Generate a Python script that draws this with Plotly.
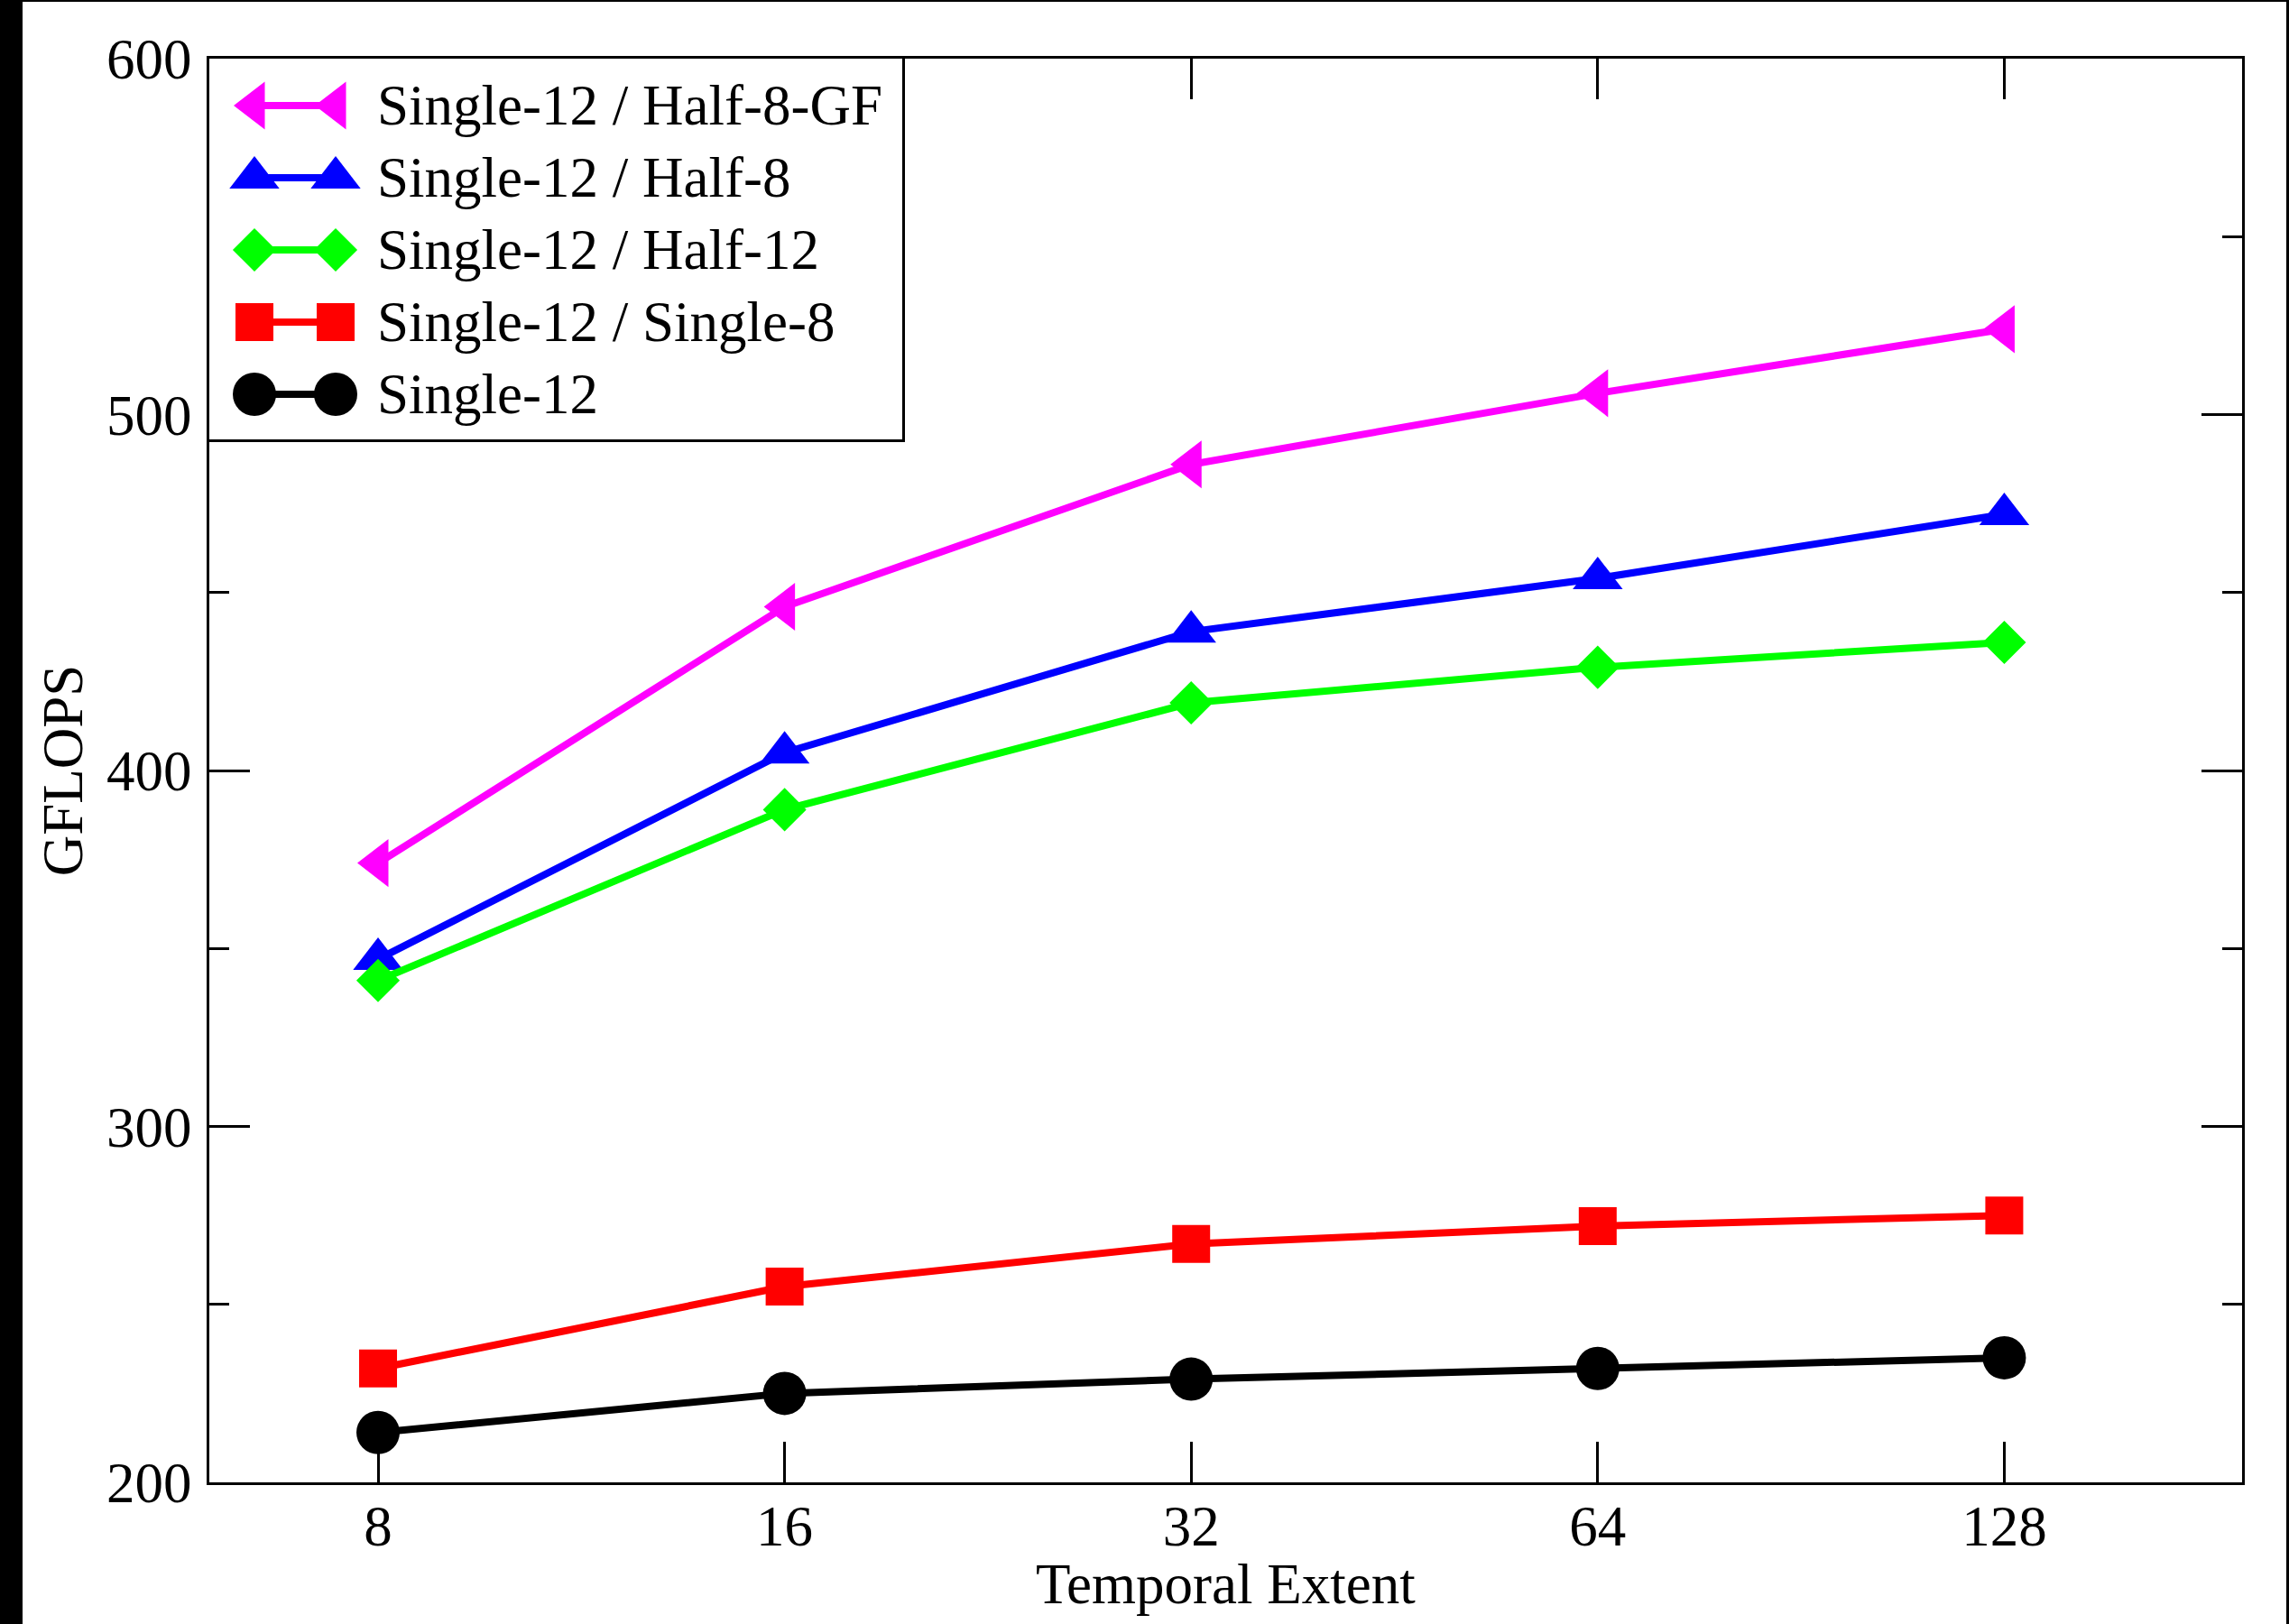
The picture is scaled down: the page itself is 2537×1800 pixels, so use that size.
import math
import plotly.graph_objects as go

# ---------------- data ----------------
temporal_extent = [8, 16, 32, 64, 128]
tick_labels = ["8", "16", "32", "64", "128"]

series_names = [
    "Single-12 / Half-8-GF",
    "Single-12 / Half-8",
    "Single-12 / Half-12",
    "Single-12 / Single-8",
    "Single-12",
]
half8_gf = [374, 446, 486, 506, 524]
half8 = [347, 405, 439, 454, 472]
half12 = [341, 389, 419, 429, 436]
single8 = [232, 255, 267, 272, 275]
single12 = [214, 225, 229, 232, 235]

y_ticks = [200, 300, 400, 500, 600]
x_title = "Temporal Extent"
y_title = "GFLOPS"

# ---------------- styles ----------------
colors = ["#FF00FF", "#0000FF", "#00FF00", "#FF0000", "#000000"]
symbols = ["triangle-left", "triangle-up", "diamond", "square", "circle"]
msizes = [46, 48, 37, 42, 48]
series_values = [half8_gf, half8, half12, single8, single12]

FONT = "Liberation Serif"
FS = 63
LW = 8
W, H = 2537, 1800
L, R, T, B = 232, 52, 65, 157
PW, PH = W - L - R, H - T - B


def px_x(p):
    return (p - L) / PW


def px_y(p):
    return (H - B - p) / PH


fig = go.Figure()

for name, vals, c, s, ms in zip(series_names, series_values, colors, symbols, msizes):
    fig.add_trace(go.Scatter(
        x=temporal_extent, y=vals, name=name, mode="lines+markers",
        line=dict(color=c, width=LW),
        marker=dict(symbol=s, size=ms, color=c, line=dict(width=0)),
        showlegend=False, xaxis="x", yaxis="y",
    ))

# ---------------- custom legend (own subplot) ----------------
LEG_W, LEG_H = 768, 422
row0, row_step = 52, 80
sym_x = [50, 140]
text_x = 184
for i, (name, c, s, ms) in enumerate(zip(series_names, colors, symbols, msizes)):
    yr = row0 + row_step * i
    fig.add_trace(go.Scatter(
        x=sym_x, y=[yr, yr], mode="lines+markers",
        line=dict(color=c, width=LW),
        marker=dict(symbol=s, size=ms, color=c, line=dict(width=0)),
        showlegend=False, hoverinfo="skip", xaxis="x2", yaxis="y2",
    ))
    fig.add_annotation(
        x=text_x, y=yr, xref="x2", yref="y2", text=name, showarrow=False,
        xanchor="left", yanchor="middle",
        font=dict(family=FONT, size=FS, color="black"),
    )

fig.add_shape(type="rect", xref="x2", yref="y2", x0=0, x1=LEG_W, y0=0, y1=LEG_H,
              fillcolor="white", line=dict(width=0), layer="below")

# x axis title
fig.add_annotation(
    x=0.5, y=px_y(1756), xref="paper", yref="paper", text=x_title, showarrow=False,
    xanchor="center", yanchor="middle",
    font=dict(family=FONT, size=FS, color="black"),
)

# ---------------- frame artifacts of the original image ----------------
fig.add_shape(type="rect", xref="paper", yref="paper",
              x0=px_x(0), x1=px_x(25), y0=px_y(H), y1=px_y(0),
              fillcolor="black", line=dict(width=0), layer="above")
fig.add_shape(type="rect", xref="paper", yref="paper",
              x0=px_x(0), x1=px_x(W), y0=px_y(2), y1=px_y(0),
              fillcolor="black", line=dict(width=0), layer="above")
fig.add_shape(type="rect", xref="paper", yref="paper",
              x0=px_x(W - 3), x1=px_x(W), y0=px_y(H), y1=px_y(0),
              fillcolor="black", line=dict(width=0), layer="above")

axis_common = dict(
    showline=True, linecolor="black", linewidth=3, mirror="ticks",
    ticks="inside", ticklen=45, tickwidth=3, tickcolor="black",
    showgrid=False, zeroline=False,
    tickfont=dict(family=FONT, size=FS, color="black"),
)

fig.update_layout(
    width=W, height=H,
    margin=dict(l=L, r=R, t=T, b=B, pad=0),
    paper_bgcolor="white", plot_bgcolor="white",
    font=dict(family=FONT, size=FS, color="black"),
    showlegend=False,
    xaxis=dict(
        type="log", range=[math.log10(6), math.log10(192)],
        tickvals=temporal_extent, ticktext=tick_labels,
        ticklabelstandoff=-9,
        domain=[0, 1], anchor="y",
        **axis_common,
    ),
    yaxis=dict(
        range=[200, 600], tickvals=y_ticks,
        ticklabelstandoff=4,
        minor=dict(dtick=50, ticks="inside", ticklen=22, tickwidth=3, tickcolor="black"),
        title=dict(text=y_title, font=dict(family=FONT, size=FS), standoff=6),
        domain=[0, 1], anchor="x",
        **axis_common,
    ),
    xaxis2=dict(
        domain=[0, LEG_W / PW], range=[0, LEG_W], anchor="y2",
        showline=True, mirror=True, linecolor="black", linewidth=3,
        showticklabels=False, ticks="", showgrid=False, zeroline=False, fixedrange=True,
    ),
    yaxis2=dict(
        domain=[1 - LEG_H / PH, 1], range=[LEG_H, 0], anchor="x2",
        showline=True, mirror=True, linecolor="black", linewidth=3,
        showticklabels=False, ticks="", showgrid=False, zeroline=False, fixedrange=True,
    ),
)

fig.write_html(
    "out.html",
    config={"displayModeBar": False},
    post_script="document.body.style.margin='0';document.body.style.overflow='hidden';",
)
